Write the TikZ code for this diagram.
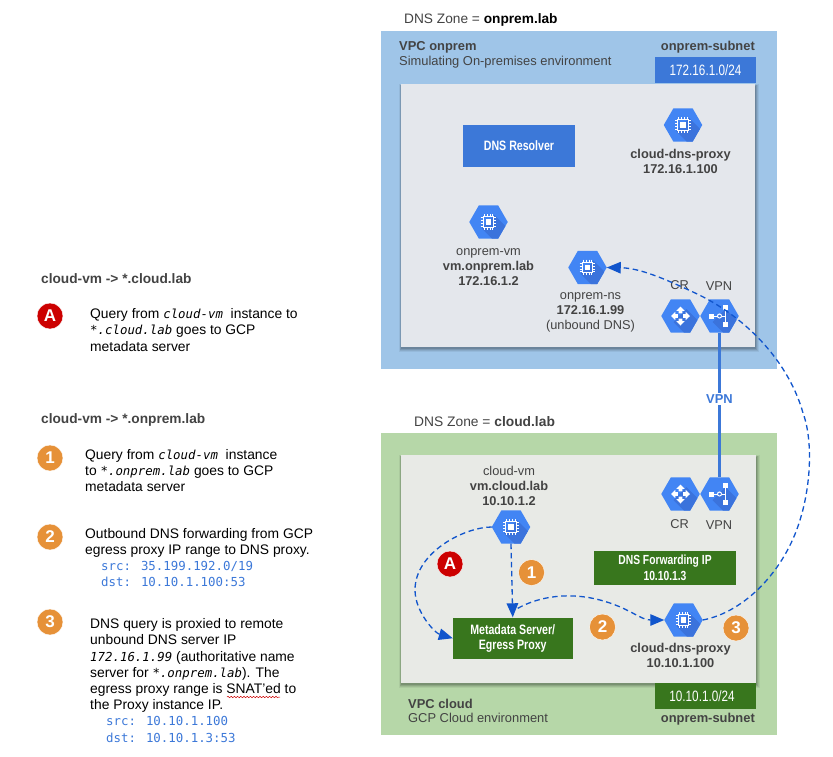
\documentclass[tikz,border=0pt]{standalone}
\usepackage{fontspec}
\setmainfont{Liberation Sans}
\newfontfamily\condfont[FakeStretch=0.78]{Liberation Sans}
\newfontfamily\codefont{DejaVu Sans Mono}
\usetikzlibrary{arrows.meta,shapes.geometric,decorations.pathmorphing}
\definecolor{vpcblue}{HTML}{9FC5E8}
\definecolor{vpcgreen}{HTML}{B6D7A8}
\definecolor{panelblue}{HTML}{E4E7EC}
\definecolor{panelgreen}{HTML}{E8EAE6}
\definecolor{boxblue}{HTML}{3C78D8}
\definecolor{boxgreen}{HTML}{38761D}
\definecolor{hexblue}{HTML}{4285F4}
\definecolor{hexshade}{HTML}{3B73DC}
\definecolor{labelgrey}{HTML}{434343}
\definecolor{arrowblue}{HTML}{1155CC}
\definecolor{codeblue}{HTML}{3C78D8}
\definecolor{badgeorange}{HTML}{E69138}
\definecolor{badgered}{HTML}{CC0000}
\newcommand{\sz}[1]{\fontsize{#1}{15}\selectfont}
\newcommand{\mi}[1]{{\codefont\itshape\fontsize{12.4}{16}\selectfont #1}}
\newcommand{\hexbody}[2]{%
  \node[hexnode] (#1) at (#2) {};
  \begin{scope}
    \clip (#1.corner 1) -- (#1.corner 2) -- (#1.corner 3) -- (#1.corner 4) -- (#1.corner 5) -- (#1.corner 6) -- cycle;
    \fill[hexshade,shift={(#2)}] (6,-7) -- (-7,6) -- (8,21) -- (21,8) -- cycle;
  \end{scope}}
\newcommand{\chiphex}[2]{\hexbody{#1}{#2}%
  \begin{scope}[shift={(#2)}]
    \draw[white,line width=1.1pt] (-5.2,-5.2) rectangle (5.2,5.2);
    \fill[white] (-2.6,-2.6) rectangle (2.6,2.6);
    \foreach \p in {-4.2,-1.4,1.4,4.2}{
      \draw[white,line width=.7pt] (\p,-7.8) -- (\p,-5.6) (\p,5.6) -- (\p,7.8) (-7.8,\p) -- (-5.6,\p) (5.6,\p) -- (7.8,\p);}
  \end{scope}}
\newcommand{\crhex}[2]{\hexbody{#1}{#2}%
  \begin{scope}[shift={(#2)}]
    \foreach \a in {0,90,180,270}{
      \fill[white,rotate=\a] (0,-9.5) -- (4.2,-5.2) -- (1.9,-5.2) -- (1.9,-2.6) -- (-1.9,-2.6) -- (-1.9,-5.2) -- (-4.2,-5.2) -- cycle;}
  \end{scope}}
\newcommand{\vpnhex}[2]{\hexbody{#1}{#2}%
  \begin{scope}[shift={(#2)}]
    \fill[white] (-10.5,-2.5) rectangle (-5.5,2.5);
    \draw[white,line width=1pt] (-5.5,0) -- (-2,0) (2,0) -- (6,0) (6,-8) -- (6,8);
    \draw[white,line width=1pt] (0,0) circle (2);
    \fill[white] (3.5,-11) rectangle (8.5,-6);
    \fill[white] (3.5,6) rectangle (8.5,11);
  \end{scope}}
\newcommand{\softshadow}[4]{%
  \foreach \d/\o in {3.2/.06,2.4/.08,1.6/.10,.8/.13}{
    \fill[black,opacity=\o] (#1-\d+1,#2-\d+3) rectangle (#3+\d+.5,#4+\d+1.5);}}
\tikzset{
  hexnode/.style={regular polygon,regular polygon sides=6,minimum size=38.5pt,inner sep=0pt,outer sep=0pt,fill=hexblue},
  lbl/.style={text=labelgrey,font=\sz{12.8},align=center,inner sep=0pt},
  lbll/.style={lbl,align=left,anchor=west},
  condbox/.style={draw=none,text=white,align=center,inner sep=0pt},
  monowhite/.style={text=white,font=\condfont\sz{15},inner sep=0pt},
  badge/.style={circle,minimum size=26pt,inner sep=0pt,text=white,font=\bfseries\sz{17},draw=white,line width=.4pt},
  orange/.style={badge,fill=badgeorange},
  redbadge/.style={badge,fill=badgered},
  para/.style={text=black,font=\fontsize{13.85}{16.2}\selectfont,align=left,anchor=west,inner sep=0pt},
  head/.style={text=labelgrey,font=\bfseries\sz{13.7},anchor=west,inner sep=0pt},
  flow/.style={arrowblue,line width=1.3pt,dash pattern=on 5.5pt off 3.6pt,-{Triangle[length=14pt,width=11.5pt]}},
}
\newcommand{\srcdst}[1]{{\codefont\color{codeblue}\fontsize{12.4}{16.2}\selectfont #1}}
\begin{document}
\begin{tikzpicture}[x=1pt,y=-1pt]
\useasboundingbox (0,0) rectangle (833,756);

% ---- VPC onprem
\node[lbll,font=\sz{13.7}] (zoneA) at (404,19.5) {DNS Zone = {\color{black}\bfseries onprem.lab}};
\fill[vpcblue] (381,31) rectangle (777,369);
\softshadow{401}{84}{755}{347}
\fill[panelblue] (401,84) rectangle (755,347);
\node[lbll,font=\bfseries\sz{12.9}] (vpcA) at (399,47.5) {VPC onprem};
\node[lbll,font=\sz{12.9}] (vpcAs) at (399,62.5) {Simulating On-premises environment};
\node[lbl,font=\bfseries\sz{12.9},anchor=east] (subA) at (755,47.5) {onprem-subnet};
\node[fill=boxblue,minimum width=101pt,minimum height=26pt,inner sep=0pt,monowhite] (cidrA) at (705.5,70) {172.16.1.0/24};
\node[fill=boxblue,minimum width=112pt,minimum height=42pt,condbox,font=\condfont\bfseries\sz{13.6}] (resolver) at (519,146) {DNS Resolver};

\chiphex{proxyA}{683,125}
\node[lbl,font=\bfseries\sz{12.8}] (proxyAl) at (680.5,161.5) {cloud-dns-proxy\\172.16.1.100};
\chiphex{onpremvm}{488.5,222}
\node[lbl] (onpremvml) at (488.5,267) {onprem-vm\\{\bfseries vm.onprem.lab}\\{\bfseries 172.16.1.2}};
\chiphex{onpremns}{587.5,267.5}
\node[lbl] (onpremnsl) at (590.5,312) {onprem-ns\\{\bfseries 172.16.1.99}\\(unbound DNS)};
\crhex{crA}{680.5,316}
\vpnhex{vpnA}{719.5,316}
\node[lbl] (crAl) at (679.5,285.5) {CR};
\node[lbl] (vpnAl) at (719,286.5) {VPN};

% ---- VPC cloud
\node[lbll,font=\sz{13.8}] (zoneB) at (414,422) {DNS Zone = {\bfseries cloud.lab}};
\fill[vpcgreen] (381,433) rectangle (777,735);
\softshadow{401}{455}{756}{683}
\fill[panelgreen] (401,455) rectangle (756,683);
\node[fill=boxgreen,minimum width=101pt,minimum height=26pt,inner sep=0pt,monowhite] (cidrB) at (705.5,696) {\hspace*{-7pt}10.10.1.0/24};
\node[lbl,font=\bfseries\sz{12.9},anchor=east] (subB) at (755,719) {onprem-subnet};
\node[lbll,font=\bfseries\sz{12.9}] (vpcB) at (408,703.5) {VPC cloud};
\node[lbll,font=\sz{12.9}] (vpcBs) at (408,717.5) {GCP Cloud environment};

\node[lbl] (cloudvml) at (509,486) {cloud-vm\\{\bfseries vm.cloud.lab}\\{\bfseries 10.10.1.2}};
\chiphex{cloudvm}{511,527}
\crhex{crB}{680.5,494}
\vpnhex{vpnB}{719.5,494}
\node[lbl] (crBl) at (679.5,524.5) {CR};
\node[lbl] (vpnBl) at (719,525.5) {VPN};
\node[fill=boxgreen,minimum width=142pt,minimum height=34pt,condbox,font=\condfont\bfseries\fontsize{13.2}{16}\selectfont] (fwd) at (665,568) {DNS Forwarding IP\\10.10.1.3};
\node[fill=boxgreen,minimum width=119.5pt,minimum height=41.5pt,condbox,font=\condfont\bfseries\sz{13.6}] (meta) at (512.75,638.25) {Metadata Server/\\Egress Proxy};
\chiphex{proxyB}{683.5,620}
\node[lbl,font=\bfseries\sz{12.8}] (proxyBl) at (680.5,655.5) {cloud-dns-proxy\\10.10.1.100};

% ---- VPN link
\draw[boxblue,line width=3pt] (vpnA.south) -- (vpnB.north) node[pos=.46,fill=white,inner sep=1.5pt,text=boxblue,font=\bfseries\sz{12.9}] (vpnlink) {VPN};

% ---- flows
\draw[flow] (cloudvm.west) .. controls (465,527) and (415,552) .. (415,590) .. controls (415,612) and (435,633) .. (meta.west);
\draw[flow] (cloudvm.south) -- (meta.north);
\draw[flow] ([xshift=5pt,yshift=9pt]meta.north) .. controls (540,596) and (570,592) .. (600,600) .. controls (630,608) and (640,620) .. (proxyB.west);
\draw[flow] (proxyB.east) .. controls (745,612) and (785,570) .. (800,520) .. controls (811,485) and (813,440) .. (803,413) .. controls (790,366) and (750,318) .. (693,292) .. controls (665,279) and (640,268) .. (onpremns.east);

% ---- badges on diagram
\node[redbadge] (bA) at (450,564) {A};
\node[orange] (b1) at (531.5,572.5) {1};
\node[orange] (b2) at (602.5,627) {2};
\node[orange] (b3) at (736,628) {3};

% ---- left legend
\node[head] (h1) at (41,279) {cloud-vm -> *.cloud.lab};
\node[redbadge] (lA) at (50,316) {A};
\node[para] (tA) at (90,330) {Query from \mi{cloud-vm} \ instance to\\\mi{*.cloud.lab} goes to GCP\\metadata server};
\node[head] (h2) at (41,420) {cloud-vm -> *.onprem.lab};
\node[orange] (l1) at (50,458) {1};
\node[para] (t1) at (85,470.5) {Query from \mi{cloud-vm} \ instance\\to \mi{*.onprem.lab} goes to GCP\\metadata server};
\node[orange] (l2) at (50,537) {2};
\node[para] (t2) at (85,557.5) {Outbound DNS forwarding from GCP\\egress proxy IP range to DNS proxy.\\\hspace*{16pt}\srcdst{src: 35.199.192.0/19}\\\hspace*{16pt}\srcdst{dst: 10.10.1.100:53}};
\node[orange] (l3) at (50,622) {3};
\node[para] (t3) at (90,680.5) {DNS query is proxied to remote\\unbound DNS server IP\\\mi{172.16.1.99} (authoritative name\\server for \mi{*.onprem.lab}). The\\egress proxy range is SNAT'ed to\\the Proxy instance IP.\\\hspace*{16pt}\srcdst{src: 10.10.1.100}\\\hspace*{16pt}\srcdst{dst: 10.10.1.3:53}};
\draw[red!80!black,line width=.5pt,decorate,decoration={snake,amplitude=.7pt,segment length=3.2pt}] (227,697) -- (280,697);
\end{tikzpicture}
\end{document}
